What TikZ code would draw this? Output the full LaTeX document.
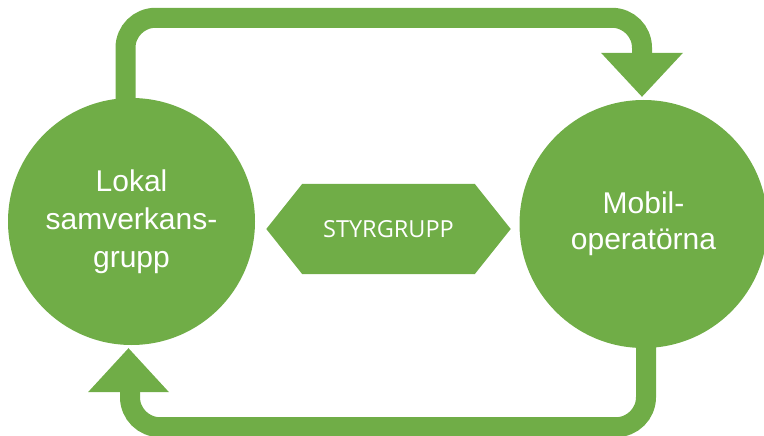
\documentclass[tikz,border=0pt]{standalone}
\usepackage{fontspec}
\setmainfont{Liberation Sans}
\newfontfamily\segfont{Open Sans}
\usetikzlibrary{backgrounds,calc}
\definecolor{ogreen}{HTML}{70AD47}
\begin{document}
\begin{tikzpicture}[x=1pt,y=-1pt,
  circ/.style={circle, fill=ogreen, minimum size=247pt, inner sep=0pt, text=white, align=center, font=\fontsize{30}{38}\selectfont},
  hexnode/.style={minimum width=172pt, minimum height=90pt, inner sep=0pt, text=white, font=\segfont\fontsize{23.5}{28}\selectfont},
  bar/.style={draw=ogreen, line width=20pt, rounded corners=30pt},
  head/.style={fill=ogreen}]
\useasboundingbox (0,0) rectangle (764,436);
\node[circ] (L) at (131.5,221.5) {Lokal\\samverkans-\\grupp};
\node[circ, minimum size=248pt, font=\fontsize{30}{36}\selectfont] (R) at (643.5,224) {Mobil-\\operatörna};
\node[hexnode] (S) at (388.5,229) {STYRGRUPP};
\begin{scope}[on background layer]
\fill[ogreen] (S.north west) -- (S.north east) -- ([xshift=36pt]S.east) -- (S.south east) -- (S.south west) -- ([xshift=-36pt]S.west) -- cycle;
\coordinate (t1) at ([xshift=-1.5pt,yshift=3pt]R.north);
\draw[bar] ([xshift=-6pt]L.center) |- ($(t1)+(0,-79)$) -- ($(t1)+(0,-44)$);
\fill[head] (t1) -- ($(t1)+(-41,-44)$) -- ($(t1)+(41,-44)$) -- cycle;
\coordinate (t2) at ([xshift=-3pt,yshift=-3pt]L.south);
\draw[bar] ([xshift=2.5pt]R.center) |- ($(t2)+(1.5,79)$) -- ($(t2)+(1.5,44)$);
\fill[head] (t2) -- ($(t2)+(-40.5,44)$) -- ($(t2)+(40.5,44)$) -- cycle;
\end{scope}
\end{tikzpicture}
\end{document}
